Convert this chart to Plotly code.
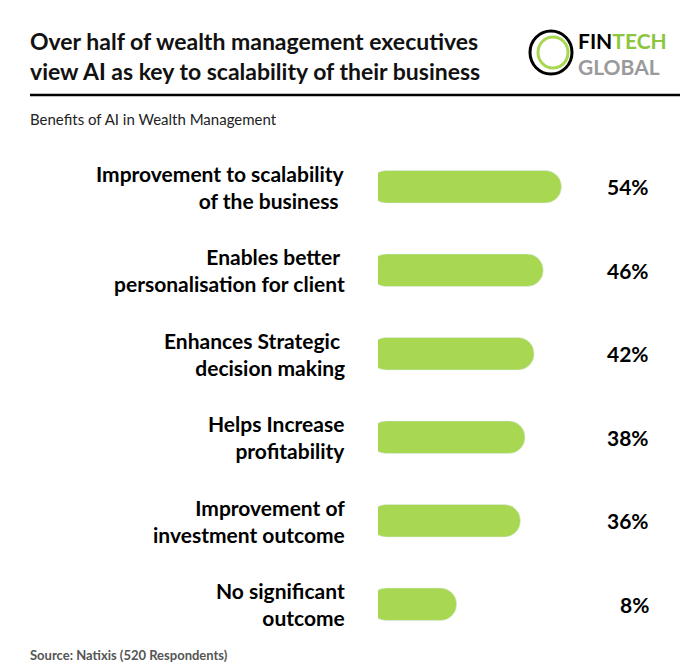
import plotly.graph_objects as go

categories = [
    "Improvement to scalability<br>of the business ",
    "Enables better <br>personalisation for client",
    "Enhances Strategic <br>decision making",
    "Helps Increase<br>profitability",
    "Improvement of<br>investment outcome",
    "No significant<br>outcome",
]
values = [54, 46, 42, 38, 36, 8]
labels = ["54%", "46%", "42%", "38%", "36%", "8%"]

GREEN = "#a8d752"
FONT = "Lato"
W, H = 696, 664
L, R, T, B = 370, 16, 137, 26

fig = go.Figure(go.Bar(
    y=categories, x=[v + 30 for v in values], base=-30, orientation="h",
    marker=dict(color=GREEN, cornerradius=16), hoverinfo="skip",
))

def px_x(p):
    return (p - L) / (W - L - R)

def px_y(p):
    return 1 - (p - T) / (H - T - B)

for c, lab in zip(categories, labels):
    fig.add_annotation(x=px_x(339), xref="paper", y=c, yref="y", text=c,
                       xanchor="right", align="right", showarrow=False,
                       font=dict(family=FONT, size=21, color="black", weight="bold"))
    fig.add_annotation(x=px_x(643), xref="paper", y=c, yref="y", text=lab,
                       xanchor="right", showarrow=False,
                       font=dict(family=FONT, size=21, color="black", weight="bold"))

# title and header
fig.add_annotation(x=px_x(20), y=px_y(48), xref="paper", yref="paper",
                   text="<b>Over half of wealth management executives<br>view AI as key to scalability of their business</b>",
                   xanchor="left", yanchor="middle", align="left", showarrow=False,
                   font=dict(family=FONT, size=23, color="#111"))
fig.add_annotation(x=px_x(20), y=px_y(111), xref="paper", yref="paper",
                   text="Benefits of AI in Wealth Management", xanchor="left",
                   yanchor="middle", showarrow=False, font=dict(family=FONT, size=15, color="#222"))
fig.add_annotation(x=px_x(20), y=px_y(647), xref="paper", yref="paper",
                   text="<b>Source: Natixis (520 Respondents)</b>", xanchor="left",
                   yanchor="middle", showarrow=False, font=dict(family=FONT, size=13, color="#555"))
fig.add_shape(type="line", xref="paper", yref="paper", x0=px_x(22), x1=px_x(672),
              y0=px_y(87), y1=px_y(87), line=dict(color="black", width=2.5))

# logo
fig.add_shape(type="circle", xref="paper", yref="paper", x0=px_x(522), x1=px_x(564),
              y0=px_y(23), y1=px_y(66), line=dict(color="black", width=3))
fig.add_shape(type="circle", xref="paper", yref="paper", x0=px_x(530), x1=px_x(560),
              y0=px_y(29), y1=px_y(60), line=dict(color=GREEN, width=3))
fig.add_annotation(x=px_x(568), y=px_y(32), xref="paper", yref="paper",
                   text="<b>FIN<span style='color:#8cc63f'>TECH</span></b>", xanchor="left",
                   yanchor="middle", showarrow=False, font=dict(family=FONT, size=21, color="black"))
fig.add_annotation(x=px_x(568), y=px_y(59), xref="paper", yref="paper",
                   text="<b>GLOBAL</b>", xanchor="left", yanchor="middle", showarrow=False,
                   font=dict(family=FONT, size=21, color="#9a9a9a"))

fig.update_layout(
    width=W, height=H, margin=dict(l=L, r=R, t=T, b=B),
    paper_bgcolor="white", plot_bgcolor="white", showlegend=False, bargap=0.61,
    xaxis=dict(range=[-26.5, 109.5], visible=False),
    yaxis=dict(autorange="reversed", visible=False, categoryorder="array", categoryarray=categories),
)
fig.write_html("out.html")
